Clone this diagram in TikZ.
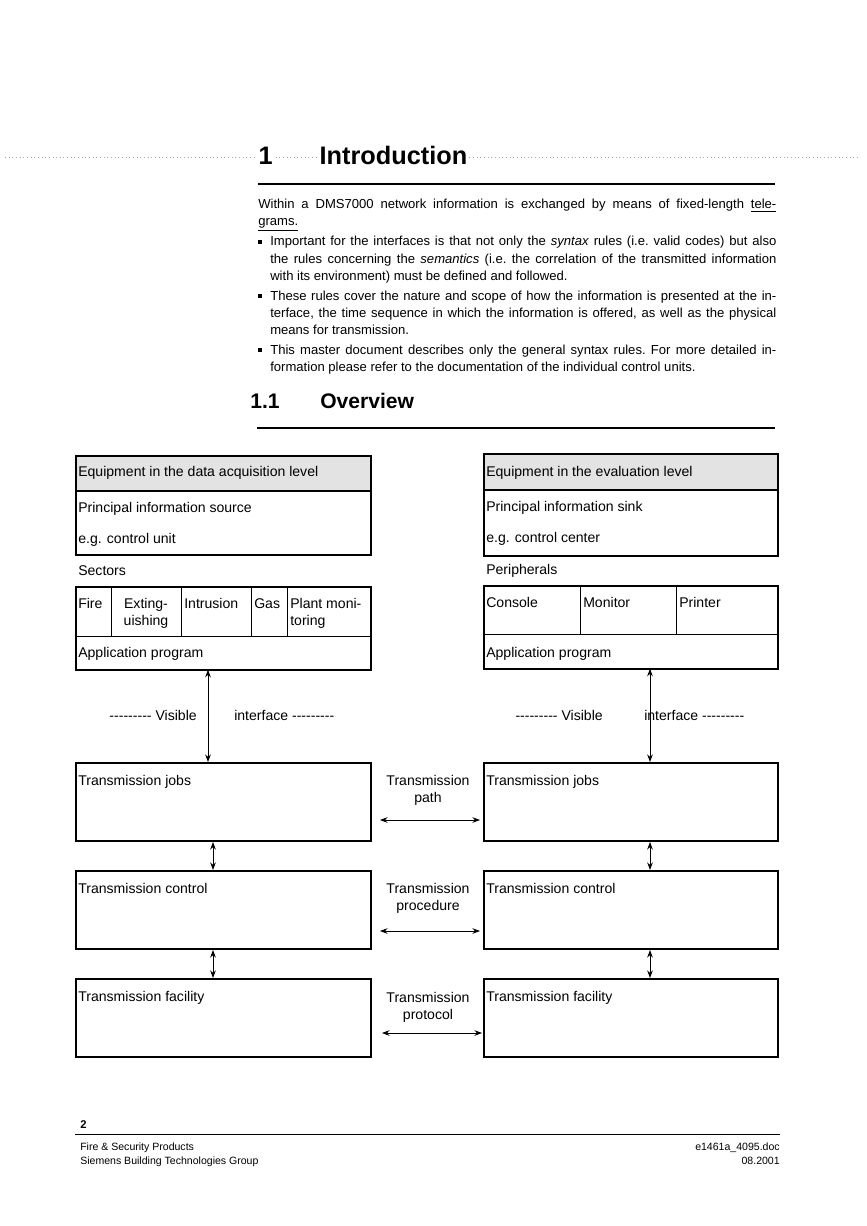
\documentclass[tikz,border=0pt]{standalone}
\usepackage{fontspec}
\setmainfont{Liberation Sans}
\usepackage{tikz}
\usetikzlibrary{arrows.meta,positioning}
\newcommand\pxu{0.025cm}
\newcommand\hy{\mbox{-}}
\newcommand\hyrow{\hy\hy\hy\hy\hy\hy\hy\hy\hy}
\newcommand\bul{\makebox[0.3cm][l]{\raisebox{0.3ex}{\rule{0.1cm}{0.1cm}}}}
\tikzset{
  framebox/.style={draw=black,line width=1.4pt,inner sep=0pt,anchor=north west},
  shadebox/.style={framebox,fill=black!11},
  cellbox/.style={draw=black,line width=0.5pt,inner sep=0pt,anchor=north west},
  boxsize/.style 2 args={minimum width=#1*\pxu,minimum height=#2*\pxu},
  boxtext/.style={font=\fontsize{10}{12.2}\selectfont,inner sep=0pt,anchor=base west},
  celltext/.style={font=\fontsize{10}{12.2}\selectfont,inner sep=0pt,anchor=north,align=center},
  linkarrow/.style={{Stealth[length=1.9mm,width=1.4mm]}-{Stealth[length=1.9mm,width=1.4mm]},line width=0.6pt},
  headtext/.style={font=\fontsize{18}{20}\selectfont\bfseries,inner sep=1pt,fill=white,anchor=base west},
  sectext/.style={font=\fontsize{15}{18}\selectfont\bfseries,inner sep=0pt,anchor=base west},
  bodytext/.style={font=\fontsize{9.3}{12.2}\selectfont,inner sep=0pt,anchor=north west,
    text width=12.95cm,align=justify},
  foottext/.style={font=\fontsize{7.5}{9}\selectfont,inner sep=0pt}
}

\begin{document}
\begin{tikzpicture}[x=0.025cm,y=-0.025cm]
  \fill[white] (0,0) rectangle (867,1226);
  \useasboundingbox (0,0) rectangle (867,1226);

  % chapter heading
  \draw[gray!70,dotted,line width=0.6pt] (5,157) -- (860,157);
  \node (chapno) [headtext] at (257,164) {1};
  \node (chaptitle) [headtext] at (318,164) {Introduction};
  \draw[line width=0.8pt] (258,184) -- (775,184);

  \node (intro) [bodytext] at (258,199) {\parindent=0pt\parskip=0.07cm\frenchspacing
    \hyphenpenalty=10000\exhyphenpenalty=10000\tolerance=10000
    Within a DMS7000 network information is exchanged by means of fixed-length
    \underline{tele-}\linebreak\underline{grams.}\par
    \hangindent=0.3cm\hangafter=1
    \bul Important for the interfaces is that not only the \textit{syntax} rules (i.e. valid codes) but also\linebreak
    the rules concerning the \textit{semantics} (i.e. the correlation of the transmitted information\linebreak
    with its environment) must be defined and followed.\par
    \hangindent=0.3cm\hangafter=1
    \bul These rules cover the nature and scope of how the information is presented at the in-\linebreak
    terface, the time sequence in which the information is offered, as well as the physical\linebreak
    means for transmission.\par
    \hangindent=0.3cm\hangafter=1
    \bul This master document describes only the general syntax rules. For more detailed in-\linebreak
    formation please refer to the documentation of the individual control units.\par};

  \node (secno) [sectext] at (250,408) {1.1};
  \node (sectitle) [sectext] at (320,408) {Overview};
  \draw[line width=0.8pt] (257,428) -- (775,428);

  % data acquisition side
  \node (eqL) [shadebox,boxsize={295}{35}] at (75,455) {};
  \node (eqLtext) [boxtext] at (78,476) {Equipment in the data acquisition level};
  \node (srcL) [framebox,boxsize={295}{64}] at (75,490) {};
  \node (srcLa) [boxtext] at (78,512) {Principal information source};
  \node (srcLb) [boxtext] at (78,543) {e.g. control unit};
  \node (sectors) [boxtext] at (78,575) {Sectors};
  \node (fireL) [cellbox,boxsize={36}{50}] at (75,586) {};
  \node (extL) [cellbox,boxsize={70}{50}] at (111,586) {};
  \node (intrL) [cellbox,boxsize={70}{50}] at (181,586) {};
  \node (gasL) [cellbox,boxsize={36}{50}] at (251,586) {};
  \node (plantL) [cellbox,boxsize={83}{50}] at (287,586) {};
  \node (appL) [cellbox,boxsize={295}{33}] at (75,636) {};
  \node (secL) [framebox,boxsize={295}{83}] at (75,586) {};
  \node (fireLtext) [boxtext] at (78,608) {Fire};
  \node (extLtext) [celltext] at (146,598) {Exting-\\uishing};
  \node (intrLtext) [boxtext] at (184,608) {Intrusion};
  \node (gasLtext) [boxtext] at (254,608) {Gas};
  \node (plantLtext) [celltext,anchor=north west,align=left] at (290,598) {Plant moni-\\toring};
  \node (appLtext) [boxtext] at (78,657) {Application program};

  % evaluation side
  \node (eqR) [shadebox,boxsize={294}{36}] at (483,453) {};
  \node (eqRtext) [boxtext] at (486,476) {Equipment in the evaluation level};
  \node (srcR) [framebox,boxsize={294}{66}] at (483,489) {};
  \node (srcRa) [boxtext] at (486,511) {Principal information sink};
  \node (srcRb) [boxtext] at (486,542) {e.g. control center};
  \node (periph) [boxtext] at (486,574) {Peripherals};
  \node (consR) [cellbox,boxsize={97}{49}] at (483,585) {};
  \node (monR) [cellbox,boxsize={96}{49}] at (580,585) {};
  \node (prnR) [cellbox,boxsize={101}{49}] at (676,585) {};
  \node (appR) [cellbox,boxsize={294}{34}] at (483,634) {};
  \node (secR) [framebox,boxsize={294}{83}] at (483,585) {};
  \node (consRtext) [boxtext] at (486,607) {Console};
  \node (monRtext) [boxtext] at (583,607) {Monitor};
  \node (prnRtext) [boxtext] at (679,607) {Printer};
  \node (appRtext) [boxtext] at (486,657) {Application program};

  % transmission layers
  \foreach \nm/\yy/\txt in {tj/762/jobs,tc/870/control,tf/978/facility}{
    \node (\nm L) [framebox,boxsize={295}{78}] at (75,\yy) {};
    \node (\nm R) [framebox,boxsize={294}{78}] at (483,\yy) {};
    \node (\nm Ltext) [boxtext] at (78,\yy+23) {Transmission \txt};
    \node (\nm Rtext) [boxtext] at (486,\yy+23) {Transmission \txt};
  }

  % visible interface
  \coordinate (ifL) at (208,715);
  \coordinate (ifR) at (650,715);
  \draw[linkarrow] (appL.south -| ifL) -- (tjL.north -| ifL);
  \draw[linkarrow] (appR.south -| ifR) -- (tjR.north -| ifR);
  \node (visL) [boxtext,anchor=base east] at (197,720) {\hyrow\ Visible};
  \node (intfL) [boxtext] at (234,720) {interface \hyrow};
  \node (visR) [boxtext,anchor=base east] at (603,720) {\hyrow\ Visible};
  \node (intfR) [boxtext] at (644,720) {interface \hyrow};

  \coordinate (lkL) at (213,0);
  \coordinate (lkR) at (650,0);
  \draw[linkarrow] (tjL.south -| lkL) -- (tcL.north -| lkL);
  \draw[linkarrow] (tcL.south -| lkL) -- (tfL.north -| lkL);
  \draw[linkarrow] (tjR.south -| lkR) -- (tcR.north -| lkR);
  \draw[linkarrow] (tcR.south -| lkR) -- (tfR.north -| lkR);

  % peer relations
  \node (pathlbl) [celltext] at (428,775) {Transmission\\path};
  \node (proclbl) [celltext] at (428,883) {Transmission\\procedure};
  \node (protlbl) [celltext] at (428,992) {Transmission\\protocol};
  \coordinate (pathY) at (0,820);
  \coordinate (procY) at (0,931);
  \coordinate (protY) at (0,1033);
  \draw[linkarrow,shorten <=8*\pxu,shorten >=3*\pxu] (tjL.east |- pathY) -- (tjR.west |- pathY);
  \draw[linkarrow,shorten <=8*\pxu,shorten >=3*\pxu] (tcL.east |- procY) -- (tcR.west |- procY);
  \draw[linkarrow,shorten <=10*\pxu,shorten >=1*\pxu] (tfL.east |- protY) -- (tfR.west |- protY);

  % footer
  \node (pageno) [foottext,font=\fontsize{8}{9}\selectfont\bfseries,anchor=base west] at (80,1128) {2};
  \draw[line width=0.7pt] (75,1134) -- (780,1134);
  \node (footA) [foottext,anchor=base west] at (80,1150) {Fire \& Security Products};
  \node (footB) [foottext,anchor=base west] at (80,1164) {Siemens Building Technologies Group};
  \node (footC) [foottext,anchor=base east] at (780,1150) {e1461a\_4095.doc};
  \node (footD) [foottext,anchor=base east] at (780,1164) {08.2001};
\end{tikzpicture}
\end{document}
